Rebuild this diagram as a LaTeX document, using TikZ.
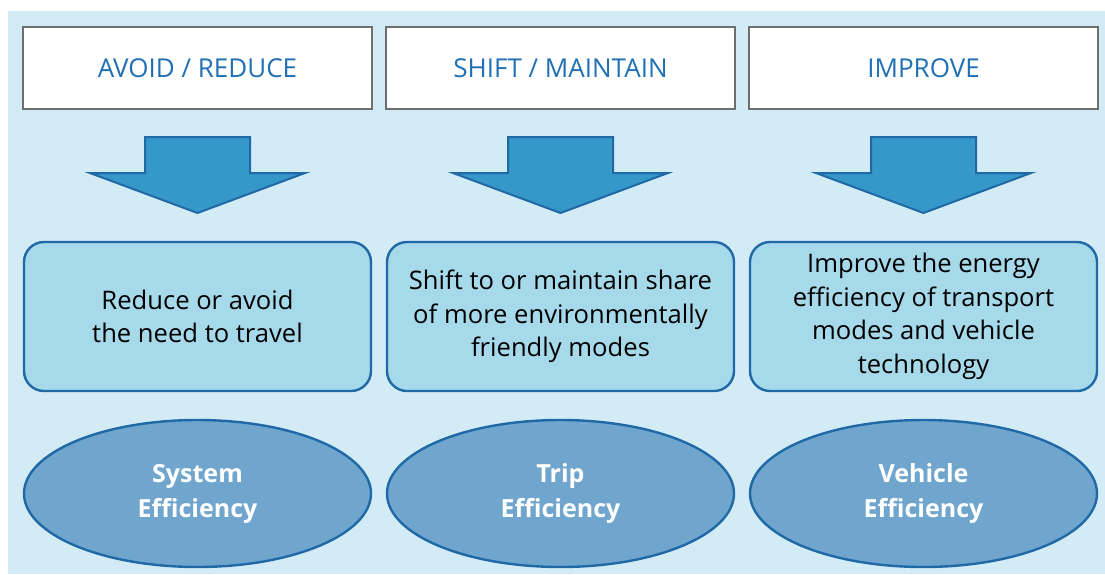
\documentclass[tikz,border=0pt]{standalone}
\usepackage{fontspec}
\setmainfont{Open Sans}
\usetikzlibrary{shapes.geometric}
\definecolor{bgblue}{HTML}{D3EBF5}
\definecolor{boxfill}{HTML}{A6D9EA}
\definecolor{ellfill}{HTML}{70A5CE}
\definecolor{edgeblue}{HTML}{1E69A6}
\definecolor{arrowfill}{HTML}{3697C9}
\definecolor{toptext}{HTML}{2070B5}
\definecolor{topedge}{HTML}{6E6E6E}
\tikzset{
  topbox/.style={draw=topedge, line width=1.2pt, fill=white, minimum width=349pt, minimum height=82pt, inner sep=0pt, text=toptext, font=\fontsize{26}{30}\selectfont},
  midbox/.style={draw=edgeblue, line width=2.4pt, fill=boxfill, rounded corners=20pt, minimum width=347pt, minimum height=149pt, inner sep=0pt, align=center, font=\fontsize{25.6}{33.5}\selectfont},
  effell/.style={ellipse, draw=edgeblue, line width=2.4pt, fill=ellfill, minimum width=347pt, minimum height=147pt, inner sep=0pt, align=center, text=white, font=\bfseries\fontsize{25}{35}\selectfont},
  downarrow/.style={draw=edgeblue, line width=2pt, fill=arrowfill, line join=miter}
}
\begin{document}
\begin{tikzpicture}[x=1pt, y=-1pt]
\useasboundingbox (0,0) rectangle (1105,574);
\fill[bgblue] (8,11) rectangle (1105,574);
\foreach \cx/\nm/\ttl in {197.5/a/{AVOID / REDUCE}, 560.5/b/{SHIFT / MAINTAIN}, 923.5/c/{IMPROVE}} {
  \node[topbox] (top\nm) at (\cx,68) {\ttl};
  \draw[downarrow] (\cx-52.5,137) -- (\cx+52.5,137) -- (\cx+52.5,173) -- (\cx+107.5,173) -- (\cx,213) -- (\cx-107.5,173) -- (\cx-52.5,173) -- cycle;
}
\node[midbox] (mida) at (197.5,316.5) {Reduce or avoid\\the need to travel};
\node[midbox] (midb) at (560.5,316.5) {Shift to or maintain share\\of more environmentally\\friendly modes};
\node[midbox] (midc) at (923.5,316.5) {Improve the energy\\efficiency of transport\\modes and vehicle\\technology};
\node[effell] (ella) at (197.5,493.5) {System\\Efficiency};
\node[effell] (ellb) at (560.5,493.5) {Trip\\Efficiency};
\node[effell] (ellc) at (923.5,493.5) {Vehicle\\Efficiency};
\end{tikzpicture}
\end{document}
